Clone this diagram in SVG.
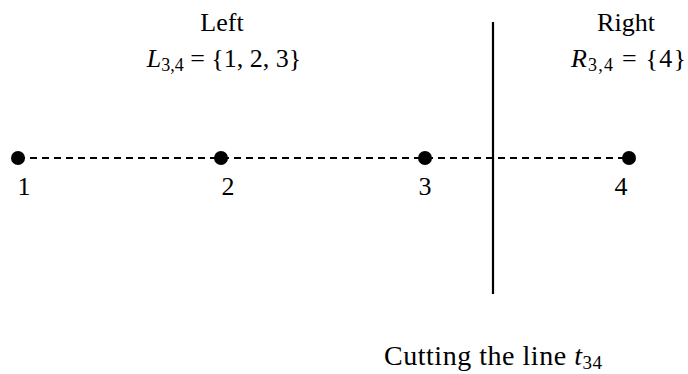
<svg xmlns="http://www.w3.org/2000/svg" width="688" height="374" viewBox="0 0 688 374">
<style>
text{font-family:"Liberation Serif","DejaVu Serif",serif;font-size:26px;fill:#000}
.m{font-style:italic}
.s{font-size:18px;font-style:normal}
.dash{stroke:#000;stroke-width:2.2;stroke-dasharray:7 5;fill:none}
.pt{fill:#000}
</style>
<rect width="688" height="374" fill="#fff"/>
<g id="connectors">
<line class="dash" x1="18" y1="158" x2="629" y2="158"/>
<line id="cut" x1="493" y1="22" x2="493" y2="294" stroke="#000" stroke-width="2.2"/>
</g>
<g id="node1"><circle class="pt" cx="18" cy="158" r="7"/><text x="24" y="195" text-anchor="middle">1</text></g>
<g id="node2"><circle class="pt" cx="221" cy="158" r="7"/><text x="228" y="195" text-anchor="middle">2</text></g>
<g id="node3"><circle class="pt" cx="425" cy="158" r="7"/><text x="425" y="195" text-anchor="middle">3</text></g>
<g id="node4"><circle class="pt" cx="629" cy="158" r="7"/><text x="621" y="195" text-anchor="middle">4</text></g>
<g id="left-label">
<text x="222" y="31" text-anchor="middle">Left</text>
<text x="224" y="67" text-anchor="middle"><tspan class="m">L</tspan><tspan class="s" dy="4">3,4</tspan><tspan dy="-4"> = {1, 2, 3}</tspan></text>
</g>
<g id="right-label">
<text x="626" y="31" text-anchor="middle">Right</text>
<text x="571" y="67" textLength="115" lengthAdjust="spacing"><tspan class="m">R</tspan><tspan class="s" dy="4">3,4</tspan><tspan dy="-4"> = {4}</tspan></text>
</g>
<g id="caption">
<text x="384" y="365" textLength="218" lengthAdjust="spacing" style="font-size:28px">Cutting the line <tspan class="m">t</tspan><tspan class="s" dy="4" style="font-size:19px">34</tspan></text>
</g>
</svg>
